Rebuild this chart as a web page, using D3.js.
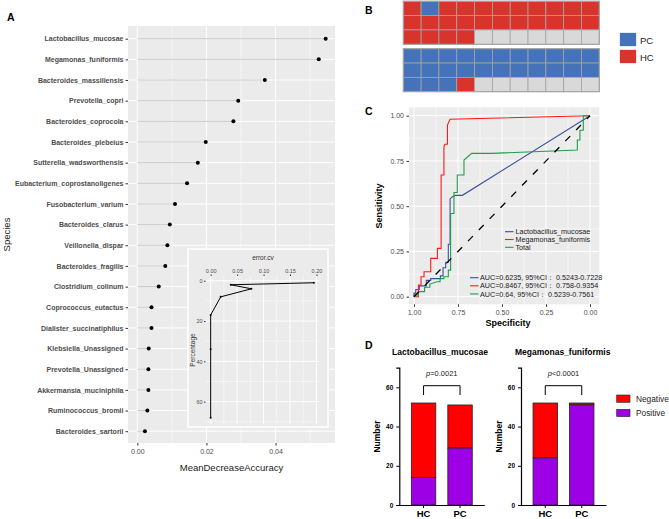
<!DOCTYPE html>
<html><head><meta charset="utf-8">
<script src="https://cdn.jsdelivr.net/npm/d3@7"></script>
<style>body{margin:0;background:#fff}svg{display:block;font-family:"Liberation Sans",Arial,sans-serif;opacity:0.999}</style>
</head><body>
<svg id="c" width="669" height="519"></svg>
<script>
// ---------- DATA ----------
const species = ["Lactobacillus_mucosae","Megamonas_funiformis","Bacteroides_massiliensis","Prevotella_copri ","Bacteroides_coprocola","Bacteroides_plebeius","Sutterella_wadsworthensis","Eubacterium_coprostanoligenes","Fusobacterium_varium","Bacteroides_clarus","Veillonella_dispar","Bacteroides_fragilis","Clostridium_colinum","Coprococcus_eutactus","Dialister_succinatiphilus","Klebsiella_Unassigned ","Prevotella_Unassigned ","Akkermansia_muciniphila","Ruminococcus_bromii","Bacteroides_sartorii"];
const meanDecreaseAccuracy = [0.0545,0.0525,0.0369,0.0292,0.0278,0.0198,0.0175,0.0144,0.0109,0.0094,0.0087,0.0081,0.0062,0.0041,0.0041,0.0033,0.0032,0.0032,0.0029,0.0022];
const xTicksA = [0, 0.02, 0.04];
const cvNVar = [68, 34, 17, 8, 4, 2, 1];
const cvError = [0, 0, 0, 0.019, 0.077, 0.038, 0.195];
const insetXTicks = [0, 0.05, 0.10, 0.15, 0.20];
const insetYTicks = [0, 20, 40, 60];

const waffleHC = ["HC","PC","HC","HC","HC","HC","HC","HC","HC","HC","HC",
                  "HC","HC","HC","HC","HC","HC","HC","HC","HC","HC","HC",
                  "HC","HC","HC","HC"];
const wafflePC = ["PC","PC","PC","PC","PC","PC","PC","PC","PC","PC","PC",
                  "PC","PC","PC","PC","PC","PC","PC","PC","PC","PC","PC",
                  "PC","PC","PC","HC"];
const waffleCols = 11, waffleRows = 3;
const groupNames = ["PC","HC"];

const rocLacto = [[1,0],[1,0.02],[0.99,0.02],[0.99,0.04],[0.97,0.04],[0.97,0.06],[0.93,0.06],[0.93,0.09],[0.905,0.09],[0.905,0.10],[0.85,0.10],[0.85,0.115],[0.835,0.115],[0.835,0.16],[0.82,0.16],[0.82,0.19],[0.805,0.19],[0.805,0.29],[0.795,0.29],[0.795,0.54],[0.785,0.55],[0.765,0.56],[0.725,0.56],[0,1]];
const rocMega = [[1,0],[0.975,0],[0.975,0.065],[0.96,0.065],[0.96,0.11],[0.943,0.11],[0.943,0.138],[0.905,0.138],[0.905,0.212],[0.867,0.212],[0.867,0.267],[0.846,0.267],[0.846,0.672],[0.83,0.672],[0.83,0.83],[0.824,0.842],[0.81,0.842],[0.81,0.948],[0.795,0.98],[0,1]];
const rocTotal = [[1,0],[1,0.01],[0.975,0.01],[0.975,0.028],[0.94,0.028],[0.94,0.052],[0.91,0.052],[0.91,0.07],[0.87,0.083],[0.852,0.083],[0.852,0.10],[0.83,0.10],[0.83,0.11],[0.805,0.11],[0.805,0.147],[0.792,0.147],[0.792,0.46],[0.773,0.46],[0.773,0.576],[0.754,0.576],[0.754,0.672],[0.716,0.672],[0.716,0.755],[0.672,0.792],[0.559,0.792],[0.072,0.81],[0.072,0.866],[0.057,0.866],[0.057,0.92],[0.038,0.92],[0.038,1],[0,1]];
const rocNames = ["Lactobacillus_mucosae","Megamonas_funiformis","Total"];
const rocColors = ["#3C4FA0","#FF1A1A","#1E9E4A"];
const aucLabels = ["AUC=0.6235, 95%CI\uFF1A 0.5243-0.7228","AUC=0.8467, 95%CI\uFF1A 0.758-0.9354","AUC=0.64, 95%CI\uFF1A 0.5239-0.7561"];
const rocTicks = [0, 0.25, 0.5, 0.75, 1];

const groups = ["HC","PC"];
const lactoPositive = [14, 29], lactoNegative = [38, 22];
const megaPositive = [24, 51], megaNegative = [28, 1];
const barTicks = [0, 20, 40, 60];
const pLabels = ["=0.0021", "<0.0001"];

// ---------- DRAW ----------
const svg = d3.select("#c");
svg.append("rect").attr("width",669).attr("height",519).attr("fill","#fff");
const gridBg = "#EBEBEB";
function label(t,x,y){svg.append("text").attr("x",x).attr("y",y).attr("font-size",10.5).attr("font-weight","bold").attr("fill","#000").text(t);}

// ===== Panel A =====
label("A",7,21);
const xA = d3.scaleLinear().domain([-0.0027,0.0572]).range([128,335]);
const yA = d3.scalePoint().domain(species).range([38.7,431.2]);
const pA = {t:26,b:443};
const gA = svg.append("g");
gA.append("rect").attr("x",128).attr("y",pA.t).attr("width",207).attr("height",pA.b-pA.t).attr("fill",gridBg);
[0.01,0.03,0.05].forEach(v=>gA.append("line").attr("x1",xA(v)).attr("x2",xA(v)).attr("y1",pA.t).attr("y2",pA.b).attr("stroke","#fff").attr("stroke-width",0.5));
xTicksA.forEach(v=>gA.append("line").attr("x1",xA(v)).attr("x2",xA(v)).attr("y1",pA.t).attr("y2",pA.b).attr("stroke","#fff").attr("stroke-width",1));
species.forEach(s=>gA.append("line").attr("x1",128).attr("x2",335).attr("y1",yA(s)).attr("y2",yA(s)).attr("stroke","#fff").attr("stroke-width",1));
species.forEach((s,i)=>{
  gA.append("line").attr("x1",xA(0)).attr("x2",xA(meanDecreaseAccuracy[i])).attr("y1",yA(s)).attr("y2",yA(s)).attr("stroke","#C9C9C9").attr("stroke-width",1);
  gA.append("circle").attr("cx",xA(meanDecreaseAccuracy[i])).attr("cy",yA(s)).attr("r",2).attr("fill","#000");
});
// axes
const axYA = svg.append("g").attr("transform","translate(128,0)").call(d3.axisLeft(yA).tickSize(2.5).tickPadding(2));
axYA.select(".domain").remove();
axYA.selectAll("text").attr("font-size",7).attr("font-weight","bold").attr("fill","#4D4D4D").attr("font-family","Liberation Sans, Arial");
axYA.selectAll("line").attr("stroke","#333");
const axXA = svg.append("g").attr("transform","translate(0,443)").call(d3.axisBottom(xA).tickValues(xTicksA).tickFormat(d3.format(".2f")).tickSize(2.5).tickPadding(4));
axXA.select(".domain").remove();
axXA.selectAll("text").attr("font-size",7).attr("fill","#4D4D4D").attr("font-family","Liberation Sans, Arial");
axXA.selectAll("line").attr("stroke","#333");
svg.append("text").attr("x",231.5).attr("y",471).attr("text-anchor","middle").attr("font-size",9.5).attr("fill","#1a1a1a").text("MeanDecreaseAccuracy");
svg.append("text").attr("transform","translate(10,234.5) rotate(-90)").attr("text-anchor","middle").attr("font-size",9.5).attr("fill","#1a1a1a").text("Species");

// inset
const gI = svg.append("g");
gI.append("rect").attr("x",188).attr("y",249).attr("width",140).attr("height",178).attr("fill",gridBg).attr("stroke","#fff").attr("stroke-width",1.5);
const xI = d3.scaleLinear().domain([-0.00975,0.2048]).range([205.5,319]);
const yI = d3.scaleLinear().domain([-2.35,71.35]).range([276,424.5]);
[0.025,0.075,0.125,0.175].forEach(v=>gI.append("line").attr("x1",xI(v)).attr("x2",xI(v)).attr("y1",276).attr("y2",424.5).attr("stroke","#fff").attr("stroke-width",0.5));
[10,30,50,70].forEach(v=>gI.append("line").attr("x1",205.5).attr("x2",319).attr("y1",yI(v)).attr("y2",yI(v)).attr("stroke","#fff").attr("stroke-width",0.5));
insetXTicks.forEach(v=>gI.append("line").attr("x1",xI(v)).attr("x2",xI(v)).attr("y1",276).attr("y2",424.5).attr("stroke","#fff").attr("stroke-width",1));
insetYTicks.forEach(v=>gI.append("line").attr("x1",205.5).attr("x2",319).attr("y1",yI(v)).attr("y2",yI(v)).attr("stroke","#fff").attr("stroke-width",1));
const cvData = cvNVar.map((n,i)=>[cvError[i],n]);
gI.append("path").attr("d",d3.line().x(d=>xI(d[0])).y(d=>yI(d[1]))(cvData)).attr("fill","none").attr("stroke","#000").attr("stroke-width",1);
cvData.forEach(d=>gI.append("circle").attr("cx",xI(d[0])).attr("cy",yI(d[1])).attr("r",1).attr("fill","#000"));
const axIX = gI.append("g").attr("transform","translate(0,276)").call(d3.axisTop(xI).tickValues(insetXTicks).tickFormat(d3.format(".2f")).tickSize(1.5).tickPadding(2));
axIX.select(".domain").remove();
axIX.selectAll("text").attr("font-size",5.5).attr("fill","#4D4D4D");
axIX.selectAll("line").attr("stroke","#333");
const axIY = gI.append("g").attr("transform","translate(205.5,0)").call(d3.axisLeft(yI).tickValues(insetYTicks).tickSize(1.5).tickPadding(1.5));
axIY.select(".domain").remove();
axIY.selectAll("text").attr("font-size",5.5).attr("fill","#4D4D4D");
axIY.selectAll("line").attr("stroke","#333");
gI.append("text").attr("x",263).attr("y",259.5).attr("text-anchor","middle").attr("font-size",6.5).attr("fill","#333").text("error.cv");
gI.append("text").attr("transform","translate(195,350) rotate(-90)").attr("text-anchor","middle").attr("font-size",6.5).attr("fill","#333").text("Percentage");

// ===== Panel B =====
label("B",365,14);
const wCol = {PC:"#4573B9",HC:"#D9342B"};
const xB = d3.scaleBand().domain(d3.range(waffleCols)).range([403.3,599.3]);
function waffle(cells,y0,y1){
  const yB = d3.scaleBand().domain(d3.range(waffleRows)).range([y0,y1]);
  const g = svg.append("g");
  d3.range(waffleCols*waffleRows).forEach(k=>{
    const r = Math.floor(k/waffleCols), c = k%waffleCols;
    g.append("rect").attr("x",xB(c)).attr("y",yB(r)).attr("width",xB.bandwidth()).attr("height",yB.bandwidth())
      .attr("fill",k<cells.length?wCol[cells[k]]:"#D9D9D9").attr("stroke","#A3A3A3").attr("stroke-width",0.8);
  });
  g.append("rect").attr("x",403.3).attr("y",y0).attr("width",196).attr("height",y1-y0).attr("fill","none").attr("stroke","#A3A3A3").attr("stroke-width",1);
}
waffle(waffleHC,1.2,44.3);
waffle(wafflePC,48.7,91.7);
groupNames.forEach((g,i)=>{
  svg.append("rect").attr("x",619.3).attr("y",32.3+i*17).attr("width",17.4).attr("height",14.4).attr("fill",wCol[g]).attr("stroke","#fff");
  svg.append("text").attr("x",640).attr("y",43.6+i*17).attr("font-size",9.5).attr("fill","#222").text(g);
});

// ===== Panel C =====
label("C",365,115);
const xC = d3.scaleLinear().domain([1,0]).range([414,590]);
const yC = d3.scaleLinear().domain([0,1]).range([296.7,115.7]);
const pC = {l:409,r:599.3,t:107.3,b:304.3};
const gC = svg.append("g");
gC.append("rect").attr("x",pC.l).attr("y",pC.t).attr("width",pC.r-pC.l).attr("height",pC.b-pC.t).attr("fill",gridBg);
[0.125,0.375,0.625,0.875].forEach(v=>{
  gC.append("line").attr("x1",xC(v)).attr("x2",xC(v)).attr("y1",pC.t).attr("y2",pC.b).attr("stroke","#fff").attr("stroke-width",0.5);
  gC.append("line").attr("x1",pC.l).attr("x2",pC.r).attr("y1",yC(v)).attr("y2",yC(v)).attr("stroke","#fff").attr("stroke-width",0.5);
});
rocTicks.forEach(v=>{
  gC.append("line").attr("x1",xC(v)).attr("x2",xC(v)).attr("y1",pC.t).attr("y2",pC.b).attr("stroke","#fff").attr("stroke-width",1);
  gC.append("line").attr("x1",pC.l).attr("x2",pC.r).attr("y1",yC(v)).attr("y2",yC(v)).attr("stroke","#fff").attr("stroke-width",1);
});
const lineC = d3.line().x(d=>xC(d[0])).y(d=>yC(d[1]));
[rocLacto,rocMega,rocTotal].forEach((r,i)=>gC.append("path").attr("d",lineC(r)).attr("fill","none").attr("stroke",rocColors[i]).attr("stroke-width",1.1));
gC.append("path").attr("d",lineC([[1,0],[0,1]])).attr("stroke","#000").attr("stroke-width",1.3).attr("stroke-dasharray","7,8.5").attr("fill","none");
const axXC = svg.append("g").attr("transform","translate(0,304.3)").call(d3.axisBottom(xC).tickValues(rocTicks).tickFormat(d3.format(".2f")).tickSize(2.5).tickPadding(3));
axXC.select(".domain").remove();
axXC.selectAll("text").attr("font-size",7).attr("fill","#4D4D4D");
axXC.selectAll("line").attr("stroke","#333");
const axYC = svg.append("g").attr("transform","translate(409,0)").call(d3.axisLeft(yC).tickValues(rocTicks).tickFormat(d3.format(".2f")).tickSize(2.5).tickPadding(2.5));
axYC.select(".domain").remove();
axYC.selectAll("text").attr("font-size",7).attr("fill","#4D4D4D");
axYC.selectAll("line").attr("stroke","#333");
svg.append("text").attr("x",508).attr("y",326).attr("text-anchor","middle").attr("font-size",9).attr("font-weight","bold").attr("fill","#000").text("Specificity");
svg.append("text").attr("transform","translate(382,206) rotate(-90)").attr("text-anchor","middle").attr("font-size",9).attr("font-weight","bold").attr("fill","#000").text("Sensitivity");
rocNames.forEach((n,i)=>{
  const y = 231.7+i*7.8;
  svg.append("line").attr("x1",505).attr("x2",513.5).attr("y1",y).attr("y2",y).attr("stroke",rocColors[i]).attr("stroke-width",1.1);
  svg.append("text").attr("x",515.5).attr("y",y+2.6).attr("font-size",7.2).attr("fill","#222").text(n);
});
aucLabels.forEach((n,i)=>{
  const y = 277.7+i*8.1;
  svg.append("line").attr("x1",470).attr("x2",478.5).attr("y1",y).attr("y2",y).attr("stroke",rocColors[i]).attr("stroke-width",1.1);
  svg.append("text").attr("x",480).attr("y",y+2.6).attr("font-size",7.2).attr("fill","#222").text(n);
});

// ===== Panel D =====
label("D",365,349);
const yD = d3.scaleLinear().domain([0,70]).range([505,367.7]);
function barChart(x0,title,titleX,pos,neg,pText){
  const xD = d3.scaleBand().domain(groups).range([x0,x0+85]).paddingInner(0.33).paddingOuter(0.33);
  const g = svg.append("g");
  groups.forEach((gr,i)=>{
    g.append("rect").attr("x",xD(gr)).attr("y",yD(pos[i]+neg[i])).attr("width",xD.bandwidth()).attr("height",yD(pos[i])-yD(pos[i]+neg[i])).attr("fill","#FF0000").attr("stroke","#222").attr("stroke-width",0.8);
    g.append("rect").attr("x",xD(gr)).attr("y",yD(pos[i])).attr("width",xD.bandwidth()).attr("height",yD(0)-yD(pos[i])).attr("fill","#9E00E6").attr("stroke","#222").attr("stroke-width",0.8);
  });
  const ay = svg.append("g").attr("transform",`translate(${x0},0)`).call(d3.axisLeft(yD).tickValues(barTicks).tickSize(3).tickPadding(3));
  ay.select(".domain").attr("stroke","#000").attr("stroke-width",1.2);
  ay.selectAll("text").attr("font-size",6.5).attr("font-weight","bold").attr("fill","#000");
  ay.selectAll("line").attr("stroke","#000");
  const ax = svg.append("g").attr("transform","translate(0,505)").call(d3.axisBottom(xD).tickSize(3).tickPadding(2.5).tickSizeOuter(0));
  ax.select(".domain").attr("stroke","#000").attr("stroke-width",1.2);
  ax.selectAll("text").attr("font-size",9.5).attr("font-weight","bold").attr("fill","#000");
  ax.selectAll("line").attr("stroke","#000");
  const c1 = xD("HC")+xD.bandwidth()/2, c2 = xD("PC")+xD.bandwidth()/2;
  svg.append("path").attr("d",`M${c1},395 V385.7 H${c2} V395`).attr("fill","none").attr("stroke","#000").attr("stroke-width",1);
  const t = svg.append("text").attr("x",(c1+c2)/2).attr("y",376).attr("text-anchor","middle").attr("font-size",7.5).attr("fill","#222");
  t.append("tspan").attr("font-style","italic").text("p");
  t.append("tspan").text(pText);
  svg.append("text").attr("x",titleX).attr("y",354.5).attr("text-anchor","middle").attr("font-size",8.5).attr("font-weight","bold").attr("fill","#000").text(title);
  svg.append("text").attr("transform",`translate(${x0-19},436.5) rotate(-90)`).attr("text-anchor","middle").attr("font-size",8.5).attr("font-weight","bold").attr("fill","#000").text("Number");
}
barChart(399.3,"Lactobacillus_mucosae",440,lactoPositive,lactoNegative,pLabels[0]);
barChart(521,"Megamonas_funiformis",562.7,megaPositive,megaNegative,pLabels[1]);
[["Negative","#FF0000"],["Positive","#9E00E6"]].forEach((d,i)=>{
  svg.append("rect").attr("x",616.7).attr("y",395+i*14.3).attr("width",13.3).attr("height",7.3).attr("fill",d[1]).attr("stroke","#222").attr("stroke-width",0.6);
  svg.append("text").attr("x",636).attr("y",401.8+i*14.3).attr("font-size",8.3).attr("fill","#222").text(d[0]);
});
</script>
</body></html>
